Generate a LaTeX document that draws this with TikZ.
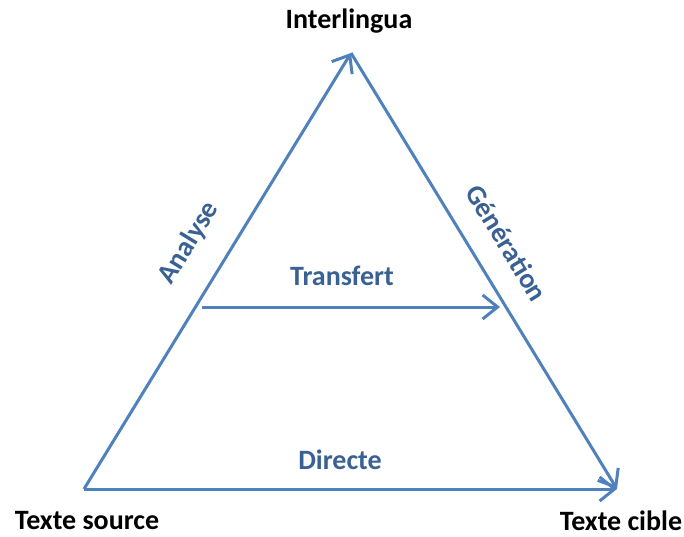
\documentclass[tikz,border=0pt]{standalone}
\usepackage{fontspec}
\setmainfont{Carlito}
\usetikzlibrary{arrows.meta}
\definecolor{traitbleu}{HTML}{4F81BD}
\definecolor{textebleu}{HTML}{3A6194}
\tikzset{
  fleche/.style={draw=traitbleu, line width=1.5pt,
    -{Straight Barb[length=7.5pt,width=12pt,line width=1.5pt]}},
  etiq/.style={font=\fontsize{14}{16}\selectfont\bfseries, text=textebleu},
  sommet/.style={font=\fontsize{14}{16}\selectfont\bfseries, text=black}
}
\begin{document}
\begin{tikzpicture}[x=0.5pt,y=-0.5pt]
  \useasboundingbox (0,0) rectangle (684,536);
  \coordinate (src) at (84,489);
  \coordinate (top) at (351,53);
  \coordinate (cib) at (617,489);
  \coordinate (tg) at (202,307);
  \coordinate (td) at (500,307);

  \draw[fleche] (src) -- (top);
  \draw[fleche] (top) -- (cib);
  \draw[fleche] (src) -- (cib);
  \draw[fleche] (tg) -- (td);

  \node[sommet] (inter) at (349,21) {Interlingua};
  \node[sommet] (source) at (87,521) {Texte source};
  \node[sommet] (cible) at (621,521) {Texte cible};

  \node[etiq, rotate=58.5] (analyse) at (189,243) {Analyse};
  \node[etiq, rotate=-58.5] (gener) at (507,243) {Génération};
  \node[etiq] (transf) at (342,276) {Transfert};
  \node[etiq] (direct) at (340,460) {Directe};
\end{tikzpicture}
\end{document}
